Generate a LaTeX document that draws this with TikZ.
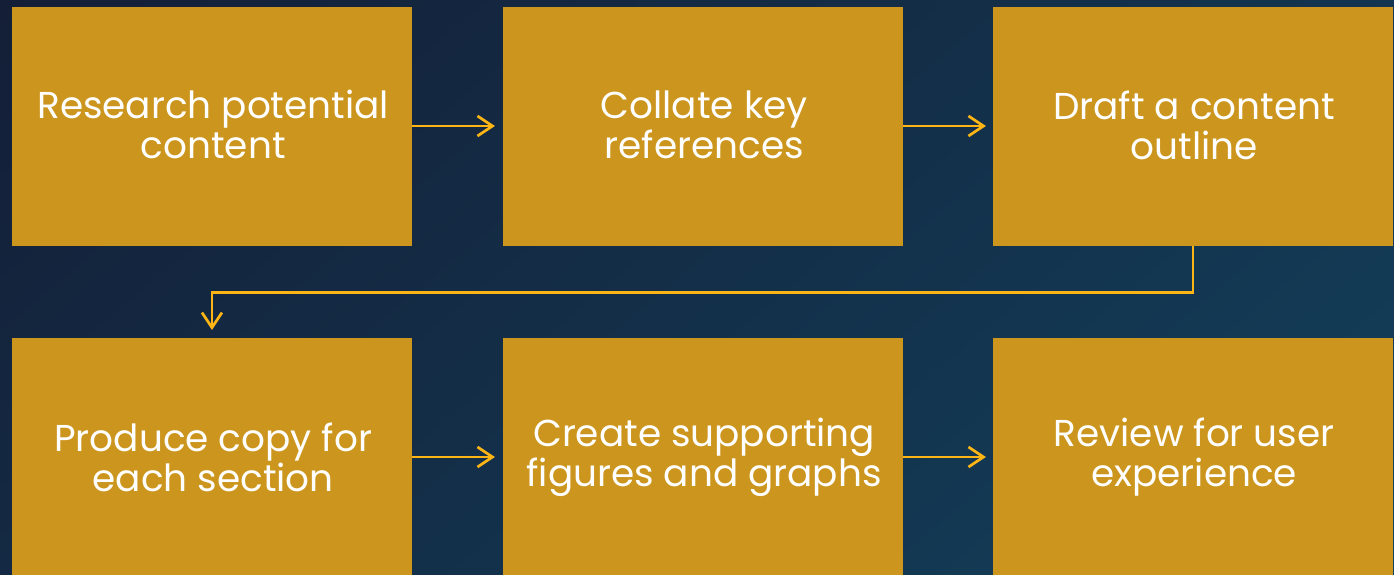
\documentclass[tikz,border=0pt]{standalone}
\usepackage{fontspec}
\setmainfont{Poppins}
\usetikzlibrary{arrows.meta}
\definecolor{bgA}{HTML}{141E37}
\definecolor{bgB}{HTML}{13405B}
\definecolor{boxc}{HTML}{CC961E}
\definecolor{arr}{HTML}{FDB515}
\tikzset{
  stepbox/.style={fill=boxc, draw=none, minimum width=399.5pt, minimum height=239pt, inner sep=0pt, anchor=north west},
  steptext/.style={text=white, align=center, font=\fontsize{37.4}{40}\selectfont, inner sep=0pt},
  flow/.style={draw=arr, line width=2.7pt, -{Straight Barb[length=15pt,width=20pt,line width=2.7pt]}}
}
\begin{document}
\begin{tikzpicture}[x=1pt,y=-1pt]
\useasboundingbox (0,0) rectangle (1394,574);
\shade[shading=axis, top color=bgA, bottom color=bgB, shading angle=40] (-200,-200) rectangle (1594,774);
\node[stepbox] (a) at (12,7) {};
\node[stepbox] (b) at (503,7) {};
\node[stepbox] (c) at (993,7) {};
\node[stepbox] (d) at (12,338) {};
\node[stepbox] (e) at (503,338) {};
\node[stepbox] (f) at (993,338) {};
\node[steptext] (ta) at ([xshift=1.2pt,yshift=1.8pt]a.center) {Research potential\\content};
\node[steptext] (tb) at ([xshift=1.2pt,yshift=1.8pt]b.center) {Collate key\\references};
\node[steptext] (tc) at ([xshift=1.2pt,yshift=1.8pt]c.center) {Draft a content\\outline};
\node[steptext] (td) at ([xshift=1.2pt,yshift=0.8pt]d.center) {Produce copy for\\each section};
\node[steptext] (te) at ([xshift=1.2pt,yshift=0.8pt]e.center) {Create supporting\\figures and graphs};
\node[steptext] (tf) at ([xshift=1.2pt,yshift=0.8pt]f.center) {Review for user\\experience};
\coordinate (r1) at (0,126);
\coordinate (r2) at (0,457);
\draw[flow] (a.east |- r1) -- ++(83,0);
\draw[flow] (b.east |- r1) -- ++(83,0);
\draw[flow] (d.east |- r2) -- ++(83,0);
\draw[flow] (e.east |- r2) -- ++(83,0);
\draw[flow] (c.south) -- ++(0,46) -| ([yshift=8pt]d.north);
\end{tikzpicture}
\end{document}
